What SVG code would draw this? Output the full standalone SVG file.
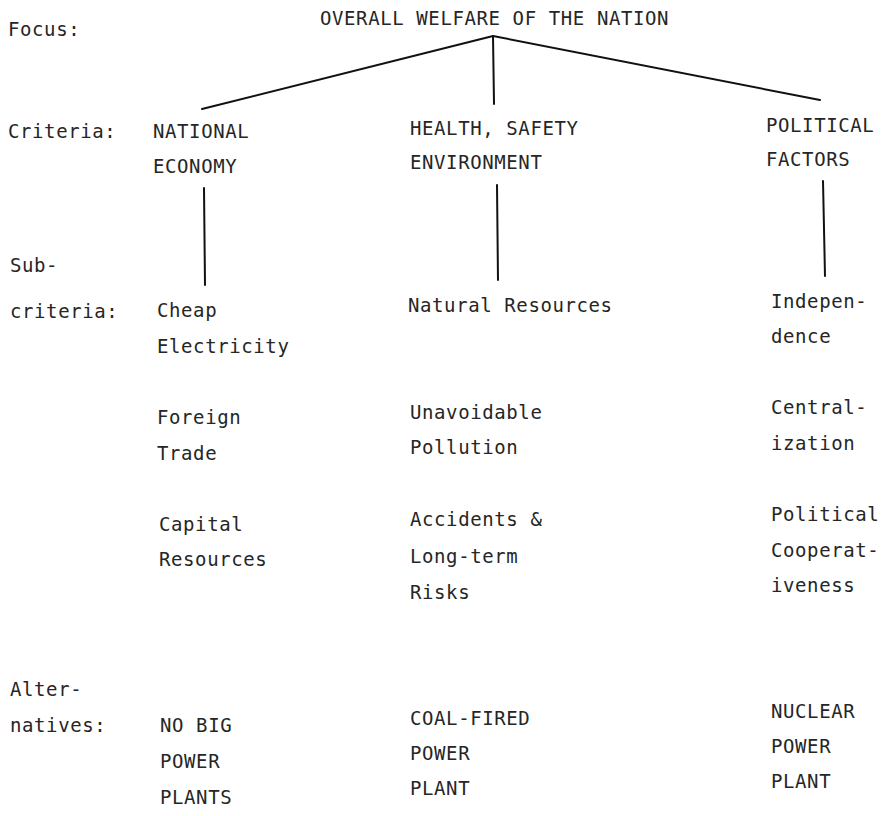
<svg xmlns="http://www.w3.org/2000/svg" width="883" height="816" viewBox="0 0 883 816">
<style>
text{font-family:"DejaVu Sans Mono","Liberation Mono",monospace;font-size:19px;letter-spacing:0.6px;fill:#262626}
.c{stroke:#111;stroke-width:2;fill:none;stroke-linecap:round}
</style>
<rect width="883" height="816" fill="#fff"/>
<g id="labels">
<text x="8" y="36">Focus:</text>
<text x="8" y="138">Criteria:</text>
<text x="10" y="272">Sub-</text>
<text x="10" y="318">criteria:</text>
<text x="10" y="696">Alter-</text>
<text x="10" y="732">natives:</text>
</g>
<g id="connectors">
<line class="c" x1="493" y1="36" x2="202" y2="109"/>
<line class="c" x1="493" y1="36" x2="494" y2="104"/>
<line class="c" x1="493" y1="36" x2="820" y2="100"/>
<line class="c" x1="204" y1="188" x2="205" y2="285"/>
<line class="c" x1="497" y1="185" x2="498" y2="280"/>
<line class="c" x1="823" y1="181" x2="825" y2="276"/>
</g>
<g id="focus"><text x="320" y="25">OVERALL WELFARE OF THE NATION</text></g>
<g id="crit-economy"><text x="153" y="138">NATIONAL</text><text x="153" y="173">ECONOMY</text></g>
<g id="crit-health"><text x="410" y="135">HEALTH, SAFETY</text><text x="410" y="169">ENVIRONMENT</text></g>
<g id="crit-political"><text x="766" y="132">POLITICAL</text><text x="766" y="166">FACTORS</text></g>
<g id="sub-cheap"><text x="157" y="317">Cheap</text><text x="157" y="353">Electricity</text></g>
<g id="sub-foreign"><text x="157" y="424">Foreign</text><text x="157" y="460">Trade</text></g>
<g id="sub-capital"><text x="159" y="531">Capital</text><text x="159" y="566">Resources</text></g>
<g id="sub-natural"><text x="408" y="312">Natural Resources</text></g>
<g id="sub-pollution"><text x="410" y="419">Unavoidable</text><text x="410" y="454">Pollution</text></g>
<g id="sub-accidents"><text x="410" y="526">Accidents &amp;</text><text x="410" y="563">Long-term</text><text x="410" y="599">Risks</text></g>
<g id="sub-independence"><text x="771" y="308">Indepen-</text><text x="771" y="343">dence</text></g>
<g id="sub-centralization"><text x="771" y="414">Central-</text><text x="771" y="450">ization</text></g>
<g id="sub-cooperation"><text x="771" y="521">Political</text><text x="771" y="557">Cooperat-</text><text x="771" y="592">iveness</text></g>
<g id="alt-none"><text x="160" y="732">NO BIG</text><text x="160" y="768">POWER</text><text x="160" y="804">PLANTS</text></g>
<g id="alt-coal"><text x="410" y="725">COAL-FIRED</text><text x="410" y="760">POWER</text><text x="410" y="795">PLANT</text></g>
<g id="alt-nuclear"><text x="771" y="718">NUCLEAR</text><text x="771" y="753">POWER</text><text x="771" y="788">PLANT</text></g>
</svg>
